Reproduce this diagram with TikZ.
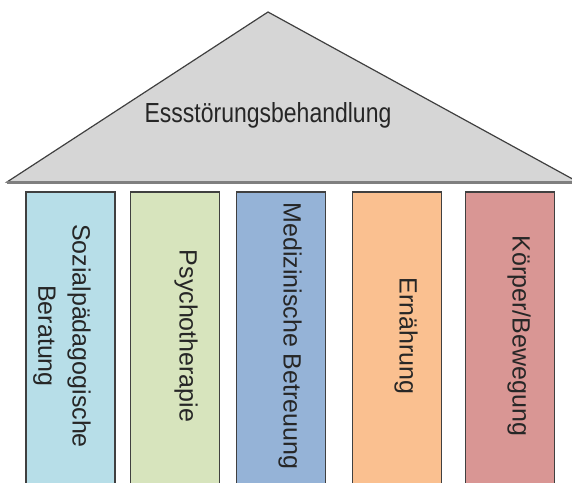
\documentclass[tikz,border=0pt]{standalone}
\usepackage{fontspec}
\setmainfont{Liberation Sans}

\definecolor{roofgray}{HTML}{D6D6D6}
\definecolor{edgegray}{HTML}{404040}
\definecolor{basegray}{HTML}{7F7F7F}
\definecolor{sozblue}{HTML}{B7DEE8}
\definecolor{psygreen}{HTML}{D7E4BD}
\definecolor{medblue}{HTML}{95B3D7}
\definecolor{ernorange}{HTML}{FAC090}
\definecolor{koerred}{HTML}{D99694}

\begin{document}
\begin{tikzpicture}[x=0.5pt,y=-0.5pt,
    pillar/.style={draw=edgegray, line width=0.7pt, minimum width=44.5pt,
      minimum height=146pt, inner sep=0pt},
    pillartext/.style={rotate=-90, inner sep=0pt, align=center,
      text=black!85, font=\fontsize{12.5}{17.2}\selectfont}]
  \useasboundingbox (0,0) rectangle (572,482);
  % roof
  \coordinate (apex) at (268,12);
  \coordinate (eaveL) at (7,182);
  \coordinate (eaveR) at (578,182);
  \filldraw[fill=roofgray, draw=edgegray, line width=0.6pt] (eaveL) -- (apex) -- (eaveR) -- cycle;
  \draw[basegray, line width=1.5pt] (eaveL) -- (eaveR);
  \node[anchor=base, inner sep=0pt, yscale=1.2, text=black!85,
    font=\fontsize{11.5}{14}\selectfont] (roof) at (268,122) {Essstörungsbehandlung};
  % pillars
  \node[pillar, fill=sozblue] (soz) at (70.5,338) {};
  \node[pillar, fill=psygreen] (psy) at (175,338) {};
  \node[pillar, fill=medblue] (med) at (281,338) {};
  \node[pillar, fill=ernorange] (ern) at (397,338) {};
  \node[pillar, fill=koerred] (koer) at (510,338) {};
  \node[pillartext] (sozt) at ([xshift=-4.25pt,yshift=1pt]soz.center) {Sozialpädagogische\\Beratung};
  \node[pillartext] (psyt) at ([xshift=5.5pt,yshift=1pt]psy.center) {Psychotherapie};
  \node[pillartext] (medt) at ([xshift=4.5pt,yshift=1pt]med.center) {Medizinische Betreuung};
  \node[pillartext] (ernt) at ([xshift=4.5pt,yshift=1pt]ern.center) {Ernährung};
  \node[pillartext] (koert) at ([xshift=4.5pt,yshift=1pt]koer.center) {Körper/Bewegung};
\end{tikzpicture}
\end{document}
